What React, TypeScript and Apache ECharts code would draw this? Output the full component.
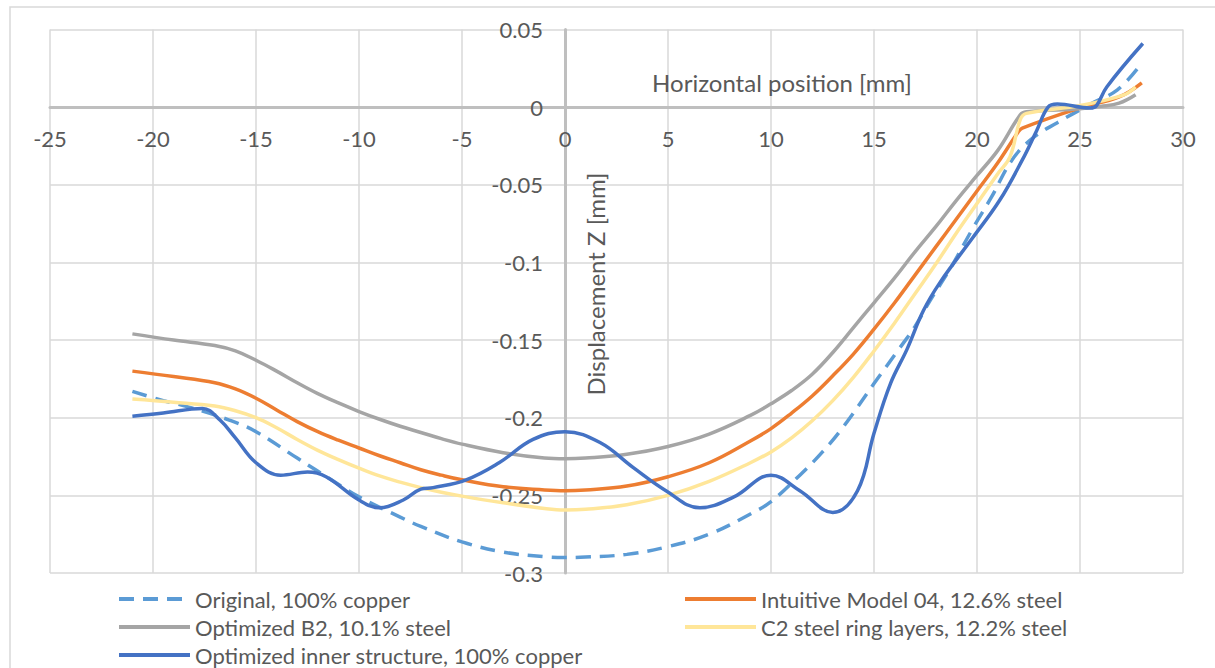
import React, { useEffect, useRef } from "react";
import * as echarts from "echarts";

const xTicks = { min: -25, max: 30, interval: 5 };
const yTicks = { min: -0.3, max: 0.05, interval: 0.05 };

const seriesNames = [
  "Original, 100% copper",
  "Intuitive Model 04, 12.6% steel",
  "Optimized B2, 10.1% steel",
  "C2 steel ring layers, 12.2% steel",
  "Optimized inner structure, 100% copper",
];

const originalCopper: [number, number][] = [
  [-21, -0.183], [-19.5, -0.189], [-18.3, -0.193], [-16.3, -0.2015], [-15, -0.209],
  [-13, -0.226], [-11.1, -0.242], [-10, -0.251], [-8, -0.264], [-7, -0.27],
  [-5, -0.28], [-3, -0.2865], [-1, -0.2895], [0, -0.29], [1, -0.2897],
  [3, -0.288], [5, -0.283], [7, -0.275], [9, -0.262], [10, -0.254],
  [11.4, -0.237], [12.5, -0.222], [13.5, -0.206], [15, -0.178], [16.2, -0.156],
  [17, -0.141], [17.7, -0.125], [18.7, -0.104], [19.8, -0.078], [20.7, -0.058],
  [21.7, -0.034], [22.7, -0.02], [23.9, -0.01], [25.6, 0.0026], [26.8, 0.011],
  [27.8, 0.025],
];

const intuitive04: [number, number][] = [
  [-21, -0.17], [-19, -0.1735], [-17, -0.1775], [-16, -0.1815], [-15, -0.1875],
  [-14, -0.195], [-13, -0.2025], [-12, -0.209], [-11, -0.2145], [-10, -0.2195],
  [-9, -0.2245], [-8, -0.229], [-7, -0.2335], [-6, -0.237], [-5, -0.24],
  [-3, -0.2445], [-1, -0.2465], [0, -0.247], [1, -0.2465], [3, -0.244],
  [5, -0.238], [7, -0.229], [9, -0.215], [10, -0.207], [11, -0.197],
  [12, -0.186], [13, -0.173], [14, -0.159], [15, -0.143], [16, -0.126],
  [17, -0.108], [18, -0.09], [19, -0.072], [20, -0.054], [21, -0.036],
  [22, -0.016], [22.2, -0.0135], [25, -0.0005], [26.9, 0.0066], [28, 0.0157],
];

const optimizedB2: [number, number][] = [
  [-21, -0.146], [-19, -0.15], [-17, -0.1535], [-16, -0.157], [-15, -0.163],
  [-14, -0.17], [-13, -0.1775], [-12, -0.1845], [-11, -0.1905], [-10, -0.196],
  [-9, -0.201], [-8, -0.2055], [-7, -0.2095], [-6, -0.2135], [-5, -0.217],
  [-3, -0.2225], [-1, -0.226], [0, -0.2265], [1, -0.226], [3, -0.2235],
  [5, -0.2185], [7, -0.2105], [9, -0.1985], [10, -0.191], [11, -0.1825],
  [12, -0.172], [13, -0.158], [14, -0.142], [15, -0.126], [16, -0.11],
  [17, -0.093], [18, -0.077], [19, -0.06], [20, -0.044], [21, -0.028],
  [22.1, -0.005], [22.4, -0.003], [25, -0.001], [26, 0.0005], [26.9, 0.0026],
  [27.7, 0.008],
];

const c2RingLayers: [number, number][] = [
  [-21, -0.188], [-19, -0.19], [-17, -0.1925], [-16, -0.1955], [-15, -0.2],
  [-14, -0.2065], [-13, -0.214], [-12, -0.221], [-11, -0.227], [-10, -0.2325],
  [-9, -0.2375], [-8, -0.2415], [-7, -0.245], [-6, -0.248], [-5, -0.2505],
  [-3, -0.2548], [-1, -0.2585], [0, -0.2595], [1, -0.259], [3, -0.256],
  [5, -0.25], [7, -0.241], [9, -0.229], [10, -0.222], [11, -0.213],
  [12, -0.202], [13, -0.189], [14, -0.174], [15, -0.157], [16, -0.139],
  [17, -0.12], [18, -0.101], [19, -0.081], [20, -0.062], [21, -0.043],
  [21.6, -0.032], [22.1, -0.008], [22.4, -0.004], [25, 0.001], [27.1, 0.0077],
  [27.7, 0.013],
];

const innerStructure: [number, number][] = [
  [-21, -0.199], [-19.5, -0.197], [-17.6, -0.194], [-16.75, -0.2015], [-16, -0.213],
  [-15, -0.229], [-13.8, -0.237], [-12.5, -0.235], [-11.6, -0.238], [-10, -0.253],
  [-9, -0.258], [-7.85, -0.253], [-7, -0.246], [-6.4, -0.245], [-4.8, -0.24],
  [-3.2, -0.229], [-1.55, -0.214], [0, -0.209], [1.7, -0.216], [3.3, -0.232],
  [4.9, -0.247], [6.55, -0.258], [8.2, -0.251], [10, -0.237], [11.4, -0.247],
  [13, -0.261], [14.2, -0.247], [15, -0.21], [15.8, -0.178], [16.6, -0.156],
  [17.4, -0.131], [18.2, -0.113], [19.8, -0.084], [21.1, -0.06], [22.2, -0.034],
  [22.9, -0.015], [23.45, 0], [23.9, 0.002], [25.5, -0.0006], [25.8, 0.001],
  [26.3, 0.013], [28.05, 0.041],
];

const seriesData = [originalCopper, intuitive04, optimizedB2, c2RingLayers, innerStructure];
const colors = ["#5B9BD5", "#ED7D31", "#A5A5A5", "#FFE699", "#4472C4"];

const xTitle = "Horizontal position [mm]";
const yTitle = "Displacement Z [mm]";

const FONT = "Lato, 'Noto Sans', sans-serif";
const TEXT_COLOR = "#595959";

const GRID = { left: 50, top: 29.5, right: 32, bottom: 95 };

export default function App() {
  const ref = useRef<HTMLDivElement>(null);
  useEffect(() => {
    if (!ref.current) return;
    const chart = echarts.init(ref.current, undefined, { renderer: "svg" });
    const W = 1215;
    const H = 668;
    const plotW = W - GRID.left - GRID.right;
    const plotH = H - GRID.top - GRID.bottom;
    // position of the zero lines inside the grid, from the axis ranges
    const zeroY = GRID.top + (yTicks.max / (yTicks.max - yTicks.min)) * plotH;
    const zeroX = GRID.left + ((0 - xTicks.min) / (xTicks.max - xTicks.min)) * plotW;
    const xOffset = -(H - GRID.bottom - zeroY);
    const yOffset = -(zeroX - GRID.left);

    const series = seriesNames.map((name, i) => ({
      name,
      type: "line",
      data: seriesData[i],
      showSymbol: false,
      symbol: "none",
      smooth: 0.4,
      color: colors[i],
      lineStyle: {
        color: colors[i],
        width: 3.5,
        type: i === 0 ? [15, 9] : "solid",
      },
      z: 2 + i,
    }));
    const legendBase = {
      orient: "vertical",
      top: 588,
      height: 90,
      padding: 0,
      itemWidth: 71,
      itemHeight: 14,
      itemGap: 6,
      itemStyle: { opacity: 0 },
      lineStyle: { width: 4 },
      textStyle: { color: TEXT_COLOR, fontSize: 22, fontFamily: FONT, lineHeight: 22 },
    };
    chart.setOption({
      animation: false,
      backgroundColor: "#ffffff",
      textStyle: { fontFamily: FONT },
      grid: { ...GRID, containLabel: false },
      xAxis: {
        type: "value",
        min: xTicks.min,
        max: xTicks.max,
        interval: xTicks.interval,
        position: "bottom",
        offset: xOffset,
        axisLine: { show: true, onZero: false, lineStyle: { color: "#BFBFBF", width: 3 } },
        axisTick: { show: false },
        axisLabel: { color: TEXT_COLOR, fontSize: 22, fontFamily: FONT, margin: 20 },
        splitLine: { show: true, lineStyle: { color: "#D9D9D9", width: 1.5 } },
      },
      yAxis: {
        type: "value",
        min: yTicks.min,
        max: yTicks.max,
        interval: yTicks.interval,
        position: "left",
        offset: yOffset,
        axisLine: { show: true, onZero: false, lineStyle: { color: "#BFBFBF", width: 3 } },
        axisTick: { show: false },
        axisLabel: {
          color: TEXT_COLOR,
          fontSize: 22,
          fontFamily: FONT,
          margin: 22,
          formatter: (v: number) => String(Math.round(v * 100) / 100),
        },
        splitLine: { show: true, lineStyle: { color: "#D9D9D9", width: 1.5 } },
      },
      legend: [
        { ...legendBase, left: 117, data: [seriesNames[0], seriesNames[2], seriesNames[4]] },
        { ...legendBase, left: 683, data: [seriesNames[1], seriesNames[3]] },
      ],
      graphic: [
        {
          type: "rect",
          shape: { x: 10, y: 7, width: 1220, height: 680 },
          style: { fill: "none", stroke: "#D9D9D9", lineWidth: 1.5 },
          silent: true,
          z: -1,
        },
        {
          type: "text",
          x: 782,
          y: 82,
          style: {
            text: xTitle,
            fill: TEXT_COLOR,
            font: `24px ${FONT}`,
            align: "center",
            verticalAlign: "middle",
          },
          z: 10,
        },
        {
          type: "text",
          x: 595,
          y: 284,
          rotation: Math.PI / 2,
          style: {
            text: yTitle,
            fill: TEXT_COLOR,
            font: `24px ${FONT}`,
            align: "center",
            verticalAlign: "middle",
          },
          z: 10,
        },
      ],
      series,
    });
    return () => chart.dispose();
  }, []);
  return (
    <div
      ref={ref}
      style={{ position: "absolute", left: 0, top: 0, width: 1215, height: 668, background: "#fff" }}
    />
  );
}
